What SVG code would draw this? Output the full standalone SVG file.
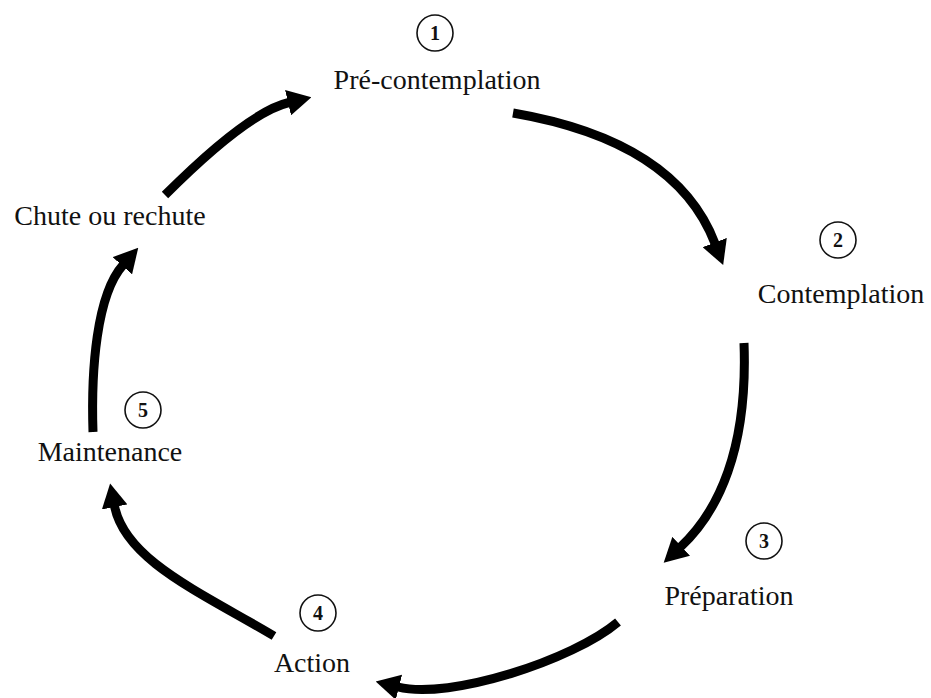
<svg xmlns="http://www.w3.org/2000/svg" width="931" height="698" viewBox="0 0 931 698">
<style>
.lbl{font-family:"Liberation Serif","Times New Roman",serif;font-size:28px;fill:#111;text-anchor:middle}
.num{font-family:"Liberation Serif","Times New Roman",serif;font-size:20px;font-weight:bold;fill:#111;text-anchor:middle}
.badge{fill:#fff;stroke:#111;stroke-width:1.6}
.arc{fill:none;stroke:#000;stroke-width:9;marker-end:url(#ah)}
</style>
<defs>
<marker id="ah" viewBox="0 0 24 26" refX="1" refY="13" markerWidth="24" markerHeight="26" markerUnits="userSpaceOnUse" orient="auto">
<path d="M0,0 L24,13 L0,26 z" fill="#000"/>
</marker>
</defs>
<rect width="931" height="698" fill="#fff"/>
<g id="connectors">
<path class="arc" d="M165,195 Q248,112 289,102.5"/>
<path class="arc" d="M513,113 Q676,141 715,243.5"/>
<path class="arc" d="M744,343 C748,450 718,512 680.5,547"/>
<path class="arc" d="M618,622 C573,660 450,700 398,687"/>
<path class="arc" d="M274,636 C200,592 125,560 114.5,506"/>
<path class="arc" d="M93,432 C91,370 96.4,295 123,265"/>
</g>
<g id="node1">
<circle class="badge" cx="435" cy="33" r="18"/>
<text class="num" x="435" y="40">1</text>
<text class="lbl" x="437" y="89">Pré-contemplation</text>
</g>
<g id="node2">
<circle class="badge" cx="838" cy="240" r="18"/>
<text class="num" x="838" y="247">2</text>
<text class="lbl" x="841" y="303">Contemplation</text>
</g>
<g id="node3">
<circle class="badge" cx="764" cy="541" r="18"/>
<text class="num" x="764" y="548">3</text>
<text class="lbl" x="729" y="605">Préparation</text>
</g>
<g id="node4">
<circle class="badge" cx="318" cy="613" r="18"/>
<text class="num" x="318" y="620">4</text>
<text class="lbl" x="312" y="672">Action</text>
</g>
<g id="node5">
<circle class="badge" cx="143" cy="410" r="18"/>
<text class="num" x="143" y="417">5</text>
<text class="lbl" x="110" y="461">Maintenance</text>
</g>
<g id="node6">
<text class="lbl" x="110" y="225">Chute ou rechute</text>
</g>
</svg>
